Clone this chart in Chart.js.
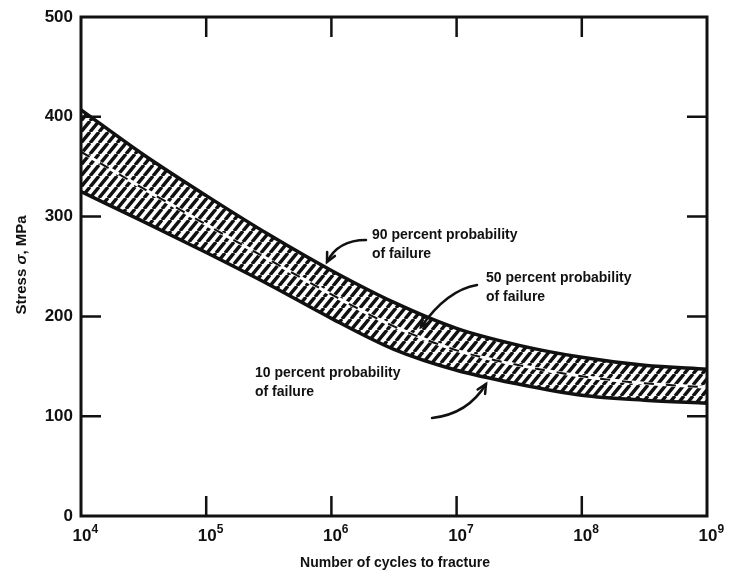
<!DOCTYPE html>
<html>
<head>
<meta charset="utf-8">
<script src="https://cdn.jsdelivr.net/npm/chart.js@4/dist/chart.umd.min.js"></script>
<style>
  html, body { margin: 0; padding: 0; background: #fff; }
  #wrap { width: 730px; height: 583px; }
</style>
</head>
<body>
<div id="wrap"><canvas id="chart" width="730" height="583"></canvas></div>
<script>
// S-N scatter band: cycles to fracture vs. stress for 10/50/90 percent failure probability
var cycles   = [1e4, 3.16e4, 1e5, 3.16e5, 1e6, 3.16e6, 1e7, 3.16e7, 1e8, 3.16e8, 1e9];
var stress90 = [407, 362, 321, 282, 246, 214, 188, 171, 159, 151, 147];
var stress50 = [365, 328, 292, 257, 222, 190, 166, 151, 140, 133, 129];
var stress10 = [325, 295, 264, 232, 198, 167, 146, 132, 121, 116, 113];

var cycleTicks  = [1e4, 1e5, 1e6, 1e7, 1e8, 1e9];
var stressTicks = [0, 100, 200, 300, 400, 500];

var INK = '#111';
var FONT = '"Liberation Sans", Arial, Helvetica, sans-serif';

function toPoints(ys) {
    return cycles.map(function (c, i) { return { x: c, y: ys[i] }; });
}

// diagonal hatch used to fill the band between the 10 and 90 percent curves
function makeHatch() {
    var w = 9, h = 11;
    var c = document.createElement('canvas');
    c.width = w; c.height = h;
    var g = c.getContext('2d');
    g.strokeStyle = INK;
    g.lineWidth = 3.4;
    g.beginPath();
    [-w, 0, w].forEach(function (dx) {
        g.moveTo(dx, h); g.lineTo(dx + w, 0);
    });
    g.stroke();
    return g.createPattern(c, 'repeat');
}

function drawArrow(ctx, sx, sy, cx, cy, tx, ty) {
    ctx.beginPath();
    ctx.moveTo(sx, sy);
    ctx.quadraticCurveTo(cx, cy, tx, ty);
    ctx.stroke();
    var ang = Math.atan2(ty - cy, tx - cx);
    var len = 10, spread = 0.45;
    ctx.beginPath();
    ctx.moveTo(tx - len * Math.cos(ang - spread), ty - len * Math.sin(ang - spread));
    ctx.lineTo(tx, ty);
    ctx.lineTo(tx - len * Math.cos(ang + spread), ty - len * Math.sin(ang + spread));
    ctx.stroke();
}

// frame, inward ticks, decade labels, axis titles and the callouts
var decorations = {
    id: 'decorations',
    afterDraw: function (chart) {
        var ctx = chart.ctx;
        var a = chart.chartArea;
        var xs = chart.scales.x, ys = chart.scales.y;
        ctx.save();

        ctx.strokeStyle = INK;
        ctx.lineWidth = 3;
        ctx.strokeRect(a.left, a.top, a.right - a.left, a.bottom - a.top);

        var tl = 20;
        ctx.lineWidth = 2.5;
        ctx.beginPath();
        cycleTicks.slice(1, -1).forEach(function (v) {
            var px = xs.getPixelForValue(v);
            ctx.moveTo(px, a.bottom); ctx.lineTo(px, a.bottom - tl);
            ctx.moveTo(px, a.top); ctx.lineTo(px, a.top + tl);
        });
        stressTicks.slice(1, -1).forEach(function (v) {
            var py = ys.getPixelForValue(v);
            ctx.moveTo(a.left, py); ctx.lineTo(a.left + tl, py);
            ctx.moveTo(a.right, py); ctx.lineTo(a.right - tl, py);
        });
        ctx.stroke();

        // 10^n labels under the x axis
        ctx.fillStyle = INK;
        ctx.textBaseline = 'middle';
        cycleTicks.forEach(function (v) {
            var px = xs.getPixelForValue(v);
            var n = Math.round(Math.log10(v));
            ctx.font = 'bold 17px ' + FONT;
            var w = ctx.measureText('10').width;
            ctx.textAlign = 'left';
            ctx.fillText('10', px - w / 2 + 1, a.bottom + 20);
            ctx.font = 'bold 12px ' + FONT;
            ctx.fillText(String(n), px + w / 2 + 1, a.bottom + 14);
        });

        ctx.font = 'bold 14px ' + FONT;
        ctx.textAlign = 'center';
        ctx.fillText('Number of cycles to fracture', 395, 563);

        // rotated y title with italic sigma
        ctx.save();
        ctx.translate(22, 265);
        ctx.rotate(-Math.PI / 2);
        var parts = [['Stress ', 'bold 15px '], ['\u03c3', 'italic bold 15px '], [', MPa', 'bold 15px ']];
        var total = 0;
        parts.forEach(function (p) { ctx.font = p[1] + FONT; total += ctx.measureText(p[0]).width; });
        var x0 = -total / 2;
        ctx.textAlign = 'left';
        parts.forEach(function (p) {
            ctx.font = p[1] + FONT;
            ctx.fillText(p[0], x0, 0);
            x0 += ctx.measureText(p[0]).width;
        });
        ctx.restore();

        // callouts
        ctx.font = 'bold 14px ' + FONT;
        ctx.textAlign = 'left';
        ctx.fillText('90 percent probability', 372, 235);
        ctx.fillText('of failure', 372, 254);
        ctx.fillText('50 percent probability', 486, 278);
        ctx.fillText('of failure', 486, 297);
        ctx.fillText('10 percent probability', 255, 373);
        ctx.fillText('of failure', 255, 392);

        ctx.lineWidth = 2.5;
        ctx.lineCap = 'round';
        drawArrow(ctx, 366, 240, 338, 240, 327, 262);
        drawArrow(ctx, 477, 285, 447, 290, 421, 327);
        drawArrow(ctx, 432, 418, 468, 414, 486, 384);

        ctx.restore();
    }
};

var ctx = document.getElementById('chart').getContext('2d');
var chart = new Chart(ctx, {
    type: 'line',
    data: {
        datasets: [
            { data: toPoints(stress90), borderColor: INK, borderWidth: 3.5, fill: '+1', backgroundColor: makeHatch(), order: 2 },
            { data: toPoints(stress10), borderColor: INK, borderWidth: 3.5, fill: false, order: 2 },
            { data: toPoints(stress50), borderColor: INK, borderWidth: 2, borderDash: [10, 12], fill: false, order: 0 },
            { data: toPoints(stress50), borderColor: '#fff', borderWidth: 3, fill: false, order: 1 }
        ]
    },
    options: {
        responsive: false,
        animation: false,
        events: [],
        layout: { padding: { top: 17, right: 23, bottom: 0, left: 0 } },
        elements: {
            point: { radius: 0 },
            line: { tension: 0.4, cubicInterpolationMode: 'monotone' }
        },
        plugins: {
            legend: { display: false },
            tooltip: { enabled: false },
            filler: { drawTime: 'beforeDatasetsDraw' }
        },
        scales: {
            x: {
                type: 'logarithmic',
                min: 1e4,
                max: 1e9,
                grid: { display: false },
                border: { display: false },
                ticks: { display: false },
                afterBuildTicks: function (s) { s.ticks = cycleTicks.map(function (v) { return { value: v }; }); },
                afterFit: function (s) { s.height = 67; s.paddingLeft = 0; s.paddingRight = 0; }
            },
            y: {
                min: 0,
                max: 500,
                grid: { display: false, drawTicks: false },
                border: { display: false },
                afterBuildTicks: function (s) { s.ticks = stressTicks.map(function (v) { return { value: v }; }); },
                ticks: { color: INK, padding: 8, font: { family: FONT, size: 17, weight: 'bold' } },
                afterFit: function (s) { s.width = 81; s.paddingTop = 0; s.paddingBottom = 0; }
            }
        }
    },
    plugins: [decorations]
});
</script>
</body>
</html>
